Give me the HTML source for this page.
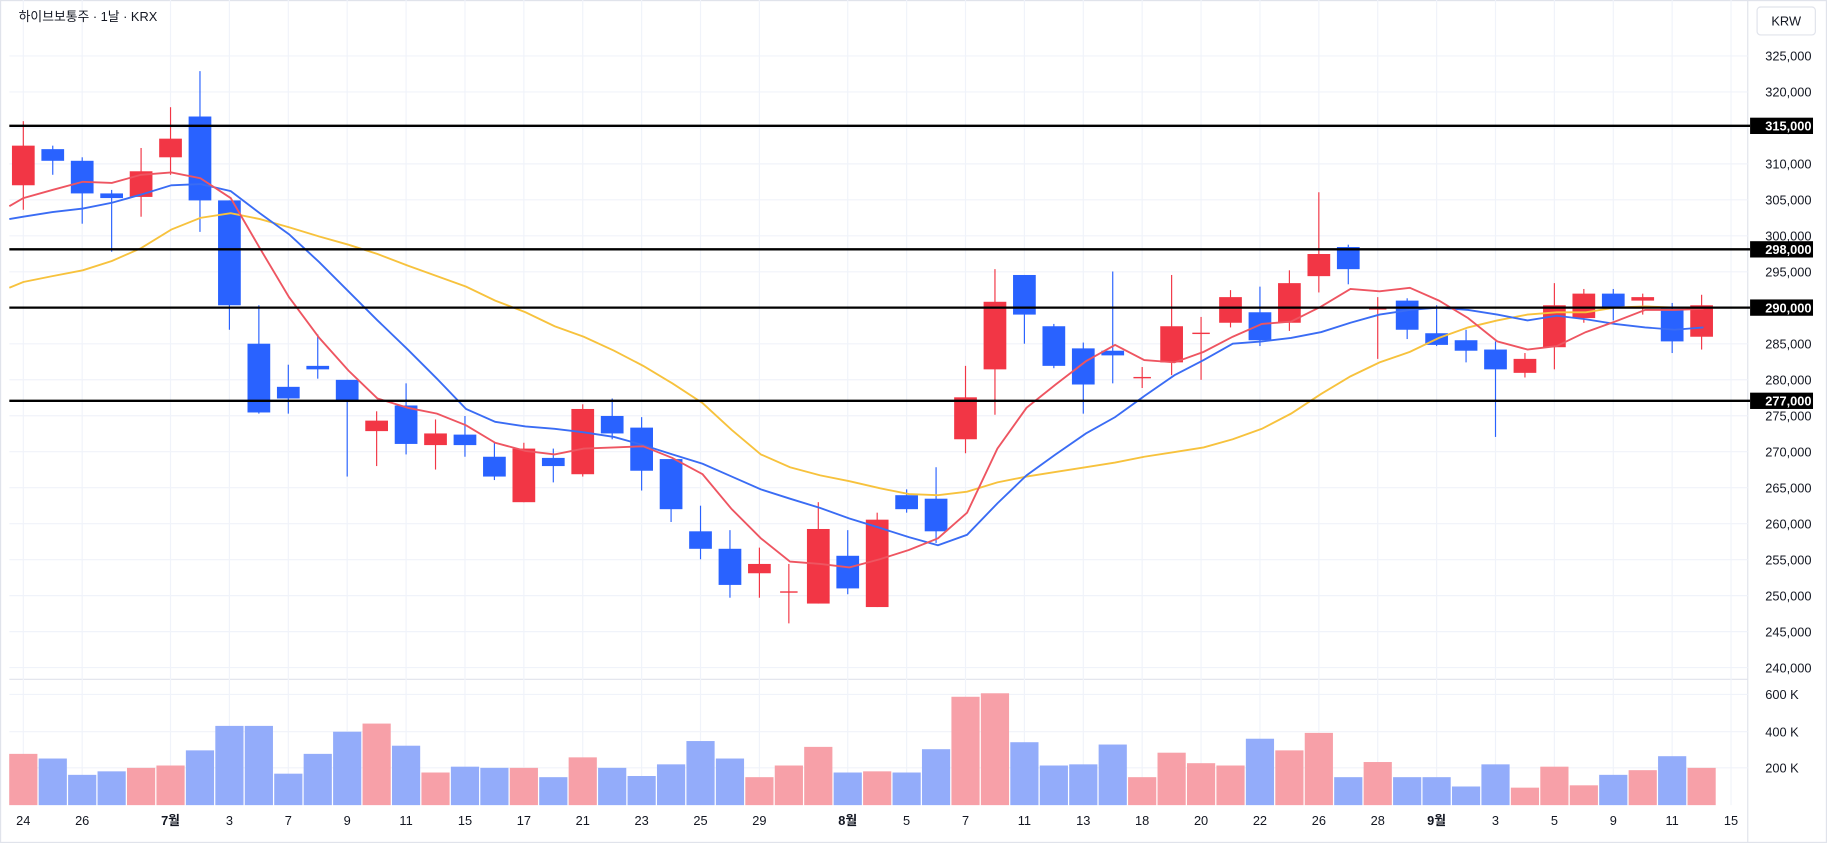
<!DOCTYPE html>
<html><head><meta charset="utf-8">
<style>
html,body{margin:0;padding:0;background:#fff;}
svg{display:block;font-family:"Liberation Sans","Noto Sans CJK KR",sans-serif;}
</style></head>
<body>
<svg id="c" width="1827" height="843" viewBox="0 0 1568 723.5" xmlns="http://www.w3.org/2000/svg"></svg>
<script>
const S=document.getElementById('c');let h='';
const X=i=>20+25.27*i;
const RED='#f23645',BLUE='#2962ff';
// frame
h+='<rect x="0.5" y="0.5" width="1567" height="722.5" fill="#fff" stroke="#e0e3eb"/>';
h+='<line x1="8" y1="583" x2="1500" y2="583" stroke="#e0e3eb"/>';
h+='<line x1="1500" y1="0" x2="1500" y2="723" stroke="#e0e3eb"/>';
// grid horizontal
for(let k=0;k<=17;k++){const y=48+30.88*k;h+=`<line x1="8" y1="${y}" x2="1500" y2="${y}" stroke="#f0f3fa"/>`;}
[596,628,659].forEach(y=>h+=`<line x1="8" y1="${y}" x2="1500" y2="${y}" stroke="#f0f3fa"/>`);
// x labels
const xl=[[0,'24'],[2,'26'],[5,'7월',1],[7,'3'],[9,'7'],[11,'9'],[13,'11'],[15,'15'],[17,'17'],[19,'21'],[21,'23'],[23,'25'],[25,'29'],[28,'8월',1],[30,'5'],[32,'7'],[34,'11'],[36,'13'],[38,'18'],[40,'20'],[42,'22'],[44,'26'],[46,'28'],[48,'9월',1],[50,'3'],[52,'5'],[54,'9'],[56,'11'],[58,'15']];
xl.forEach(a=>{const x=X(a[0]);h+=`<line x1="${x}" y1="0" x2="${x}" y2="691" stroke="#f0f3fa"/>`;h+=`<text x="${x}" y="708" font-size="11" text-anchor="middle" fill="#131722" ${a[2]?'font-weight="bold"':''}>${a[1]}</text>`;});
// volume
const vol=[[647,1],[651,0],[665,0],[662,0],[659,1],[657,1],[644,0],[623,0],[623,0],[664,0],[647,0],[628,0],[621,1],[640,0],[663,1],[658,0],[659,0],[659,1],[667,0],[650,1],[659,0],[666,0],[656,0],[636,0],[651,0],[667,1],[657,1],[641,1],[663,0],[662,1],[663,0],[643,0],[598,1],[595,1],[637,0],[657,0],[656,0],[639,0],[667,1],[646,1],[655,1],[657,1],[634,0],[644,1],[629,1],[667,0],[654,1],[667,0],[667,0],[675,0],[656,0],[676,1],[658,1],[674,1],[665,0],[661,1],[649,0],[659,1]];
vol.forEach((v,i)=>{const x=X(i);h+=`<rect x="${x-12.1}" y="${v[0]}" width="24.2" height="${691-v[0]}" fill="${v[1]?'#f7a0a8':'#93acfa'}"/>`;});
// candles [bodyTop, bodyBot, wickTop, wickBot, red?]
const C=[[125,159,104,180,1],[128,138,125,150,0],[138,166,135,192,0],[166,170,163,216,0],[147,169,127,186,1],[119,135,92,150,1],[100,172,61,199,0],[172,262,172,283,0],[295,354,262,355,0],[332,342,313,355,0],[314,317,287,325,0],[326,345,326,409,0],[361,370,353,400,1],[348,381,329,390,0],[372,382,360,403,1],[373,382,357,392,0],[392,409,380,412,0],[385,431,380,431,1],[393,400,385,414,0],[351,407,347,409,1],[357,372,342,377,0],[367,404,358,421,0],[394,437,394,448,0],[456,471,434,480,0],[471,502,455,513,0],[484,492,470,513,1],[507.5,508.5,484,535,1],[454,518,431,518,1],[477,505,455,510,0],[446,521,440,521,1],[425,437,420,440,0],[428,456,401,466,0],[341,377,314,389,1],[259,317,231,356,1],[236,270,236,295,0],[280,314,278,316,0],[299,330,294,355,0],[301,305,233,329,0],[323.5,324.5,315,333,1],[280,311,236,322,1],[285.5,286.5,272,326,1],[255,277,249,281,1],[268,292,246,297,0],[243,277,232,284,1],[218,237,165,251,1],[212,231,210,244,0],[264.5,265.5,255,308,1],[258,283,256,291,0],[286,296,262,297,0],[292,301,283,311,0],[300,317,293,375,0],[308,320,303,324,1],[262,298,243,317,1],[252,273,248,277,1],[252,264,248,275,0],[255,258,252,270,1],[265,293,260,303,0],[262,289,253,300,1]];
C.forEach((c,i)=>{const x=X(i),col=c[4]?RED:BLUE;h+=`<line x1="${x}" y1="${c[2]}" x2="${x}" y2="${c[3]}" stroke="${col}" stroke-width="1"/>`;const hh=Math.max(c[1]-c[0],1.2);const w=(c[1]-c[0]<2)?15:19.5;h+=`<rect x="${x-w/2}" y="${c[0]}" width="${w}" height="${hh}" fill="${col}"/>`;});
// MAs
const pl=(pts,col)=>{h+=`<polyline fill="none" stroke="${col}" stroke-width="1.6" points="${pts.map(p=>p.join(',')).join(' ')}"/>`;};
const red=[[8,177],[20,170],[45,163],[71,156],[96,157],[121,150],[147,148],[172,153],[198,170],[223,213],[248,255],[274,290],[299,318],[324,342],[350,350],[375,355],[400,365],[425,380],[451,387],[476,390],[501,385],[527,384],[552,383],[577,393],[603,407],[628,437],[653,462],[678,482],[704,484],[729,487],[755,480],[780,472],[805,462],[830,440],[856,385],[881,350],[906,330],[932,310],[957,296],[982,309],[1008,311],[1033,302],[1058,289],[1083,278],[1108,276],[1134,263],[1159,248],[1184,250],[1210,247],[1235,258],[1260,273],[1285,293],[1311,300],[1336,297],[1361,285],[1386,276],[1412,266],[1437,266],[1462,265]];
const blue=[[8,188],[20,186],[45,182],[71,179],[96,174],[121,167],[147,159],[172,158],[198,164],[223,183],[248,201],[274,225],[299,250],[324,275],[350,300],[375,325],[400,351],[425,362],[451,366],[476,368],[501,371],[527,375],[552,382],[577,390],[603,398],[628,409],[653,420],[678,428],[704,436],[729,445],[755,453],[780,461],[805,468],[830,459],[856,432],[881,408],[906,390],[932,372],[957,358],[982,340],[1008,322],[1033,309],[1058,295],[1083,293],[1108,290],[1134,285],[1159,277],[1184,270],[1210,266],[1235,264],[1260,266],[1285,270],[1311,275],[1336,271],[1361,274],[1386,278],[1412,281],[1437,283],[1462,281]];
const yel=[[8,247],[20,242],[45,237],[71,232],[96,224],[121,213],[147,197],[172,187],[198,183],[223,188],[248,195],[274,203],[299,210],[324,218],[350,228],[375,237],[400,246],[425,258],[451,268],[476,280],[501,289],[527,301],[552,314],[577,329],[603,346],[628,369],[653,390],[678,401],[704,408],[729,413],[755,419],[780,424],[805,425],[830,422],[856,414],[881,409],[906,405],[932,401],[957,397],[982,392],[1008,388],[1033,384],[1058,377],[1083,368],[1108,355],[1134,338],[1159,323],[1184,311],[1210,302],[1235,290],[1260,281],[1285,275],[1311,270],[1336,268],[1361,268],[1386,264],[1412,263],[1437,264],[1462,264]];
pl(yel,'#f7c23d');pl(blue,'#3a6cf4');pl(red,'#ee5561');
// horizontal levels
[[108,'315,000'],[214,'298,000'],[264,'290,000'],[344,'277,000']].forEach(l=>{h+=`<line x1="8" y1="${l[0]}" x2="1502" y2="${l[0]}" stroke="#000" stroke-width="2"/>`;});
// price labels
const pls=['325,000','320,000','315,000','310,000','305,000','300,000','295,000','290,000','285,000','280,000','275,000','270,000','265,000','260,000','255,000','250,000','245,000','240,000'];
pls.forEach((t,k)=>{const y=48+30.88*k;h+=`<text x="1515" y="${y+4}" font-size="11" fill="#131722">${t}</text>`;});
[[108,'315,000'],[214,'298,000'],[264,'290,000'],[344,'277,000']].forEach(l=>{h+=`<rect x="1502" y="${l[0]-7}" width="54" height="14" fill="#000"/><text x="1515" y="${l[0]+4}" font-size="11" font-weight="bold" fill="#fff">${l[1]}</text>`;});
[[596,'600 K'],[628,'400 K'],[659,'200 K']].forEach(l=>{h+=`<text x="1515" y="${l[0]+4}" font-size="11" fill="#131722">${l[1]}</text>`;});
h+='<rect x="1508" y="6" width="50" height="24" rx="3" fill="#fff" stroke="#e0e3eb"/><text x="1533" y="22" font-size="11" text-anchor="middle" fill="#131722">KRW</text>';
h+='<text x="16" y="18" font-size="11" fill="#131722">하이브보통주 · 1날 · KRX</text>';
S.innerHTML=h;
</script>
</body></html>
